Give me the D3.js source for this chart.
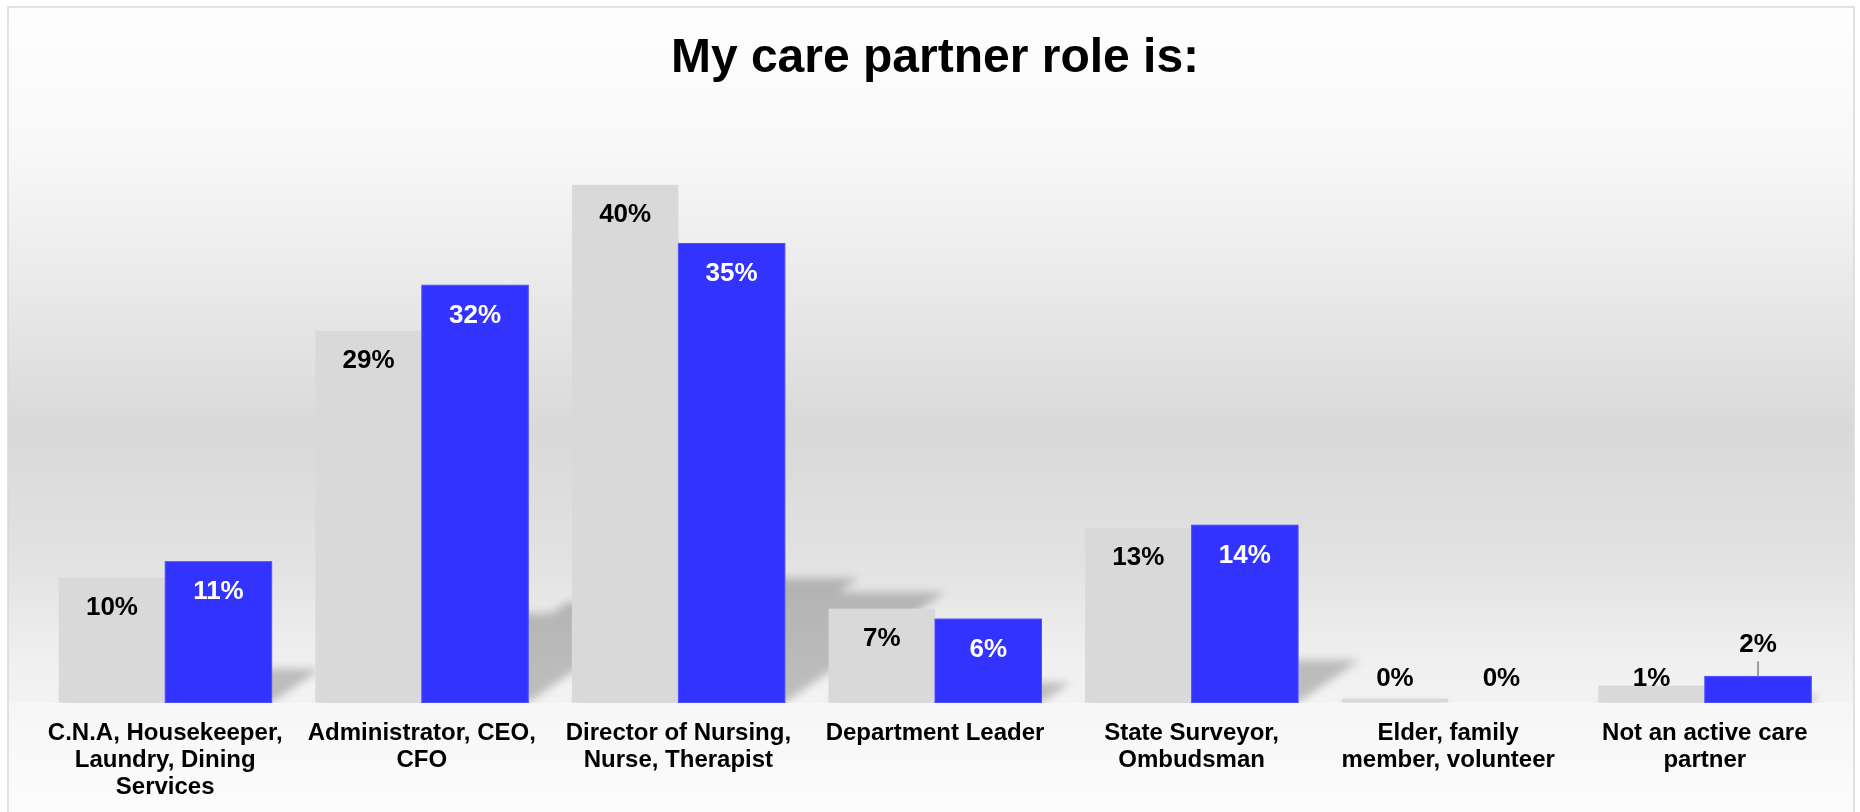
<!DOCTYPE html>
<html>
<head>
<meta charset="utf-8">
<script src="https://cdn.jsdelivr.net/npm/d3@7"></script>
<style>
  body { margin: 0; background: #fff; }
  text { font-family: Arial, "Liberation Sans", sans-serif; font-weight: bold; }
</style>
</head>
<body>
<div id="chart"></div>
<script>
// chart values
const title = "My care partner role is:";
const categories = [
	"C.N.A, Housekeeper, Laundry, Dining Services",
	"Administrator, CEO, CFO",
	"Director of Nursing, Nurse, Therapist",
	"Department Leader",
	"State Surveyor, Ombudsman",
	"Elder, family member, volunteer",
	"Not an active care partner"
];
const seriesNames = ["first", "second"];
const firstValues = [9.6, 28.5, 39.7, 7.2, 13.4, 0.3, 1.3];
const secondValues = [10.8, 32.0, 35.2, 6.4, 13.6, 0, 2.0];

function drawChart(fullWidth, fullHeight) {
	const baseY = 702.5;
	const colors = { first: "#d9d9d9", second: "#3333ff" };
	const labelColors = { first: "#000", second: "#fff" };

	const svg = d3.select("#chart").append("svg")
		.attr("width", fullWidth)
		.attr("height", fullHeight);

	const defs = svg.append("defs");

	// wall gradient
	const wall = defs.append("linearGradient")
		.attr("id", "wall")
		.attr("gradientUnits", "userSpaceOnUse")
		.attr("x1", 0).attr("x2", 0).attr("y1", 7).attr("y2", baseY);
	[[7, "#fefefe"], [150, "#f8f8f8"], [300, "#e8e8e8"], [430, "#d9d9d9"],
	 [560, "#e2e2e2"], [665, "#f0f0f0"], [baseY, "#f3f3f3"]].forEach(function(s) {
		wall.append("stop")
			.attr("offset", (s[0] - 7) / (baseY - 7))
			.attr("stop-color", s[1]);
	});

	const floor = defs.append("linearGradient")
		.attr("id", "floor")
		.attr("x1", 0).attr("x2", 0).attr("y1", 0).attr("y2", 1);
	floor.append("stop").attr("offset", 0).attr("stop-color", "#f6f6f6");
	floor.append("stop").attr("offset", 1).attr("stop-color", "#fcfcfc");

	defs.append("filter")
		.attr("id", "blur")
		.attr("x", "-20%").attr("y", "-20%").attr("width", "140%").attr("height", "140%")
		.append("feGaussianBlur")
		.attr("stdDeviation", 4);

	defs.append("clipPath")
		.attr("id", "aboveFloor")
		.append("rect")
		.attr("x", 0).attr("y", 0).attr("width", fullWidth).attr("height", baseY);

	// background frame
	svg.append("rect")
		.attr("x", 8).attr("y", 7)
		.attr("width", 1846).attr("height", baseY - 7 + 1)
		.attr("fill", "url(#wall)");
	svg.append("rect")
		.attr("x", 8).attr("y", baseY + 1)
		.attr("width", 1846).attr("height", fullHeight - baseY)
		.attr("fill", "url(#floor)");
	svg.append("rect")
		.attr("x", 8).attr("y", 7)
		.attr("width", 1846).attr("height", fullHeight + 20)
		.attr("fill", "none")
		.attr("stroke", "#d9d9d9")
		.attr("stroke-width", 1.5);

	// scales
	const x = d3.scaleBand()
		.domain(categories)
		.range([36.9, 1833.1])
		.paddingInner(0.17)
		.paddingOuter(0.085);

	const xSub = d3.scaleBand()
		.domain(seriesNames)
		.range([0, x.bandwidth()]);

	const y = d3.scaleLinear()
		.domain([0, 40])
		.range([baseY, baseY - 40 * 13.04]);

	const rows = [];
	categories.forEach(function(c, i) {
		rows.push({ cat: c, key: "first", value: firstValues[i] });
		rows.push({ cat: c, key: "second", value: secondValues[i] });
	});

	// perspective shadows
	const shadows = svg.append("g")
		.attr("clip-path", "url(#aboveFloor)")
		.attr("filter", "url(#blur)");
	shadows.selectAll("path")
		.data(rows.filter(d => d.value > 0))
		.enter().append("path")
		.attr("d", function(d) {
			const x0 = x(d.cat) + xSub(d.key);
			const x1 = x0 + xSub.bandwidth();
			const sh = 0.24 * (baseY - y(d.value));
			const dx = 1.45 * sh;
			return "M" + x0 + "," + baseY + "L" + x1 + "," + baseY +
				"L" + (x1 + dx) + "," + (baseY - sh) + "L" + (x0 + dx) + "," + (baseY - sh) + "Z";
		})
		.attr("fill", "#000")
		.attr("opacity", 0.22);

	// bars
	svg.append("g").selectAll("rect")
		.data(rows.filter(d => d.value > 0))
		.enter().append("rect")
		.attr("x", d => x(d.cat) + xSub(d.key))
		.attr("y", d => y(d.value))
		.attr("width", xSub.bandwidth())
		.attr("height", d => baseY - y(d.value))
		.attr("fill", d => colors[d.key])
		.attr("stroke", d => d.key === "second" ? "#5050ff" : "none")
		.attr("stroke-width", 1);

	// value labels
	const labels = svg.append("g");
	rows.forEach(function(d) {
		const cx = x(d.cat) + xSub(d.key) + xSub.bandwidth() / 2;
		const h = baseY - y(d.value);
		let ty, fill = labelColors[d.key];
		if (h >= 45) {
			ty = y(d.value) + 37.5;
		} else if (h >= 20) {
			ty = y(d.value) - 24;
			fill = "#000";
			labels.append("line")
				.attr("x1", cx).attr("x2", cx)
				.attr("y1", y(d.value) - 15).attr("y2", y(d.value))
				.attr("stroke", "#808080")
				.attr("stroke-width", 1.5);
		} else {
			ty = baseY - 17;
			fill = "#000";
		}
		labels.append("text")
			.attr("x", cx)
			.attr("y", ty)
			.attr("text-anchor", "middle")
			.attr("font-size", 26)
			.attr("fill", fill)
			.text(Math.round(d.value) + "%");
	});

	// category labels, wrapped
	const catLabels = svg.append("g").selectAll("text")
		.data(categories)
		.enter().append("text")
		.attr("x", d => x(d) + x.bandwidth() / 2)
		.attr("y", 740)
		.attr("text-anchor", "middle")
		.attr("font-size", 24)
		.attr("fill", "#000");
	catLabels.each(function(d) {
		wrapText(d3.select(this), d, 240, 27);
	});

	// title
	svg.append("text")
		.attr("x", 935)
		.attr("y", 72)
		.attr("text-anchor", "middle")
		.attr("font-size", 48)
		.attr("fill", "#000")
		.text(title);
}

function wrapText(textSel, str, maxWidth, lineHeight) {
	const words = str.split(" ");
	const cx = textSel.attr("x");
	let line = [];
	let lineNo = 0;
	let tspan = textSel.append("tspan").attr("x", cx).attr("dy", 0);
	words.forEach(function(w) {
		line.push(w);
		tspan.text(line.join(" "));
		if (tspan.node().getComputedTextLength() > maxWidth && line.length > 1) {
			line.pop();
			tspan.text(line.join(" "));
			line = [w];
			lineNo++;
			tspan = textSel.append("tspan").attr("x", cx).attr("dy", lineHeight).text(w);
		}
	});
}

drawChart(1860, 812);
</script>
</body>
</html>
